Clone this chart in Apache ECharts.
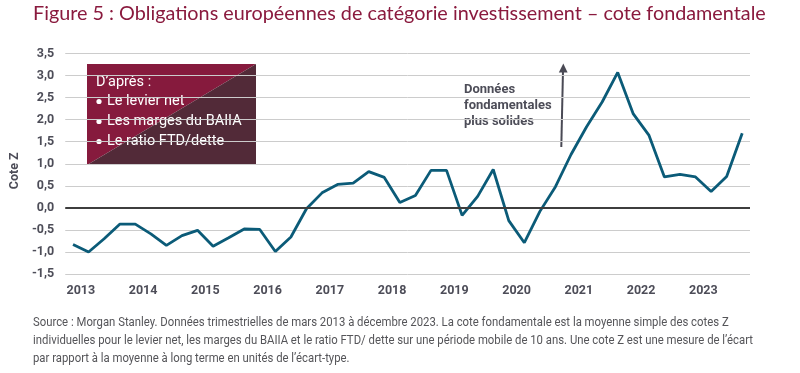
<!DOCTYPE html>
<html>
<head>
<meta charset="utf-8">
<script src="https://cdn.jsdelivr.net/npm/echarts@6/dist/echarts.min.js"></script>
<style>
html,body{margin:0;padding:0;background:#fff;}
#c{width:800px;height:373px;}
</style>
</head>
<body>
<div id="c"></div>
<script>
// Quarterly data, Mar 2013 .. Dec 2023 (44 quarters)
const quarters = [];
for (let y = 2013; y <= 2023; y++) { ['Mar','Jun','Sep','Dec'].forEach(m => quarters.push(m + ' ' + y)); }
const zScores = [
  -0.83, -1.00, -0.70, -0.37, -0.37, -0.59, -0.85, -0.63, -0.51, -0.87, -0.68, -0.48,
  -0.49, -0.99, -0.66, -0.02, 0.34, 0.53, 0.56, 0.82, 0.69, 0.12, 0.28, 0.85,
  0.85, -0.17, 0.26, 0.87, -0.29, -0.79, -0.08, 0.48, 1.21, 1.84, 2.40, 3.07,
  2.13, 1.65, 0.70, 0.76, 0.70, 0.37, 0.71, 1.69
];
const yearLabels = ['2013','2014','2015','2016','2017','2018','2019','2020','2021','2022','2023'];
const yearLabelPositions = [0.5, 4.5, 8.5, 12.5, 16.5, 20.5, 24.5, 28.5, 32.5, 36.5, 40.5];

const titleText = 'Figure 5 : Obligations européennes de catégorie investissement – cote fondamentale';
const legendHeader = 'D’après :';
const legendItems = ['Le levier net', 'Les marges du BAIIA', 'Le ratio FTD/dette'];
const annotationLines = ['Données', 'fondamentales', 'plus solides'];
const footLines = [
  'Source : Morgan Stanley. Données trimestrielles de mars 2013 à décembre 2023. La cote fondamentale est la moyenne simple des cotes Z',
  'individuelles pour le levier net, les marges du BAIIA et le ratio FTD/ dette sur une période mobile de 10 ans. Une cote Z est une mesure de l’écart',
  'par rapport à la moyenne à long terme en unités de l’écart-type.'
];

const axisFont = 'Roboto, "DejaVu Sans", sans-serif';
const footFontStr = '13px Roboto, sans-serif';
const greyText = '#4d4d58';

// measure footnote to fit the narrow face of the original
const mctx = document.createElement('canvas').getContext('2d');
mctx.font = footFontStr;
const footScale = 720 / mctx.measureText(footLines[1]).width;

const chart = echarts.init(document.getElementById('c'), null, {renderer: 'canvas'});

const graphics = [
  { type: 'text', left: 33, top: 4, style: { text: titleText, fill: '#8a1a3e', font: '19.8px Lato, sans-serif' } },
  // legend box
  { type: 'polygon', shape: { points: [[87,64],[256,64],[87,165]] }, style: { fill: '#861a3d' } },
  { type: 'polygon', shape: { points: [[256,64],[256,165],[87,165]] }, style: { fill: '#522a38' } },
  // arrow
  { type: 'line', shape: { x1: 561.3, y1: 147, x2: 563, y2: 70 }, style: { stroke: '#4a4a55', lineWidth: 2 } },
  { type: 'polygon', shape: { points: [[563.3,63.5],[558.8,72.5],[567.6,72.5]] }, style: { fill: '#4a4a55' } },
  { type: 'text', x: 96, y: 82, style: { text: legendHeader, fill: '#ffffff', font: '14.5px Roboto, sans-serif', textVerticalAlign: 'middle' } }
];
const legendY = [101.5, 121.5, 141.5];
legendItems.forEach((t, i) => {
  graphics.push({ type: 'circle', shape: { cx: 99, cy: legendY[i], r: 2.6 }, style: { fill: '#ffffff' } });
  graphics.push({
    type: 'text', x: 107, y: legendY[i],
    style: { text: t, fill: '#ffffff', font: '14.5px Roboto, sans-serif', textVerticalAlign: 'middle' }
  });
});
const annY = [89.5, 105.5, 121.5];
annotationLines.forEach((t, i) => graphics.push({
  type: 'text', x: 464, y: annY[i],
  style: { text: t, fill: greyText, font: 'bold 13px ' + axisFont, textVerticalAlign: 'middle' }
}));
const footY = [323, 341, 359];
footLines.forEach((t, i) => graphics.push({
  type: 'text', x: 33, y: footY[i], scaleX: footScale,
  style: { text: t, fill: '#555559', font: footFontStr, textVerticalAlign: 'middle' }
}));

chart.setOption({
  animation: false,
  backgroundColor: '#ffffff',
  grid: { left: 63, right: 50, top: 53.5, bottom: 99, containLabel: false },
  xAxis: {
    type: 'value', min: -0.5, max: 43.5,
    axisLine: { show: false }, axisTick: { show: false }, splitLine: { show: false },
    axisLabel: {
      customValues: yearLabelPositions,
      formatter: v => yearLabels[Math.round((v - 0.5) / 4)],
      color: greyText, fontFamily: axisFont, fontWeight: 'bold', fontSize: 12.5, margin: 10
    }
  },
  yAxis: {
    type: 'value', min: -1.5, max: 3.5, interval: 0.5,
    name: 'Cote Z', nameLocation: 'middle', nameGap: 37, nameRotate: 90,
    nameTextStyle: { color: greyText, fontFamily: axisFont, fontWeight: 'bold', fontSize: 12.5, padding: [0, 14, 0, 0] },
    axisLine: { show: false }, axisTick: { show: false },
    splitLine: { lineStyle: { color: '#cccccc', width: 1 } },
    axisLabel: {
      formatter: v => v.toFixed(1).replace('.', ','),
      color: greyText, fontFamily: axisFont, fontWeight: 'bold', fontSize: 12.5, margin: 11
    }
  },
  series: [{
    type: 'line',
    data: zScores.map((v, i) => [i, v]),
    symbol: 'none',
    lineStyle: { color: '#0b5b78', width: 2.8 },
    markLine: {
      silent: true, symbol: 'none', label: { show: false },
      lineStyle: { color: '#3d3d3d', width: 2, type: 'solid' },
      data: [{ yAxis: 0 }]
    },
    z: 3
  }],
  graphic: graphics
});
</script>
</body>
</html>
